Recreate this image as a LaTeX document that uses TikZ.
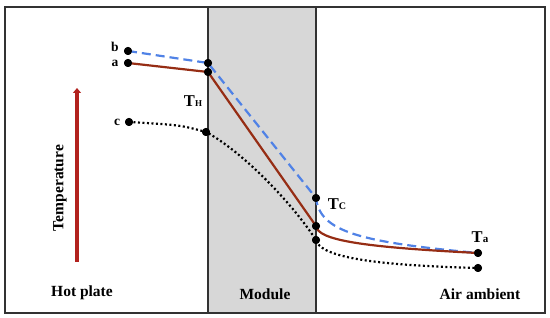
\documentclass[tikz,border=0pt]{standalone}
\usepackage{fontspec}
\setmainfont{Liberation Serif}
\usetikzlibrary{arrows.meta}
\definecolor{redline}{RGB}{150,45,20}
\definecolor{arrowred}{RGB}{178,34,30}
\definecolor{blueline}{RGB}{80,130,230}
\definecolor{modgray}{RGB}{215,215,215}
\definecolor{framegray}{RGB}{50,50,50}
\begin{document}
\begin{tikzpicture}[x=1pt,y=-1pt,
  dot/.style={circle,fill=black,inner sep=0pt,minimum size=8pt},
  biglbl/.style={font=\fontsize{15.5}{17}\selectfont\bfseries},
  tlbl/.style={font=\fontsize{16.5}{18}\selectfont\bfseries},
  smalllbl/.style={font=\fontsize{13.5}{14}\selectfont\bfseries,inner sep=0pt},
  redcurve/.style={draw=redline,line width=2.2pt},
  bluecurve/.style={draw=blueline,line width=2.2pt,dash pattern=on 9pt off 5pt},
  blackcurve/.style={draw=black,line width=2.2pt,dash pattern=on 2pt off 2.5pt},
  framebox/.style={draw=framegray,line width=1.2pt}
]
\useasboundingbox (0,0) rectangle (550,318);
% frame and module
\draw[framebox] (5,7) rectangle (545,313);
\draw[framebox,fill=modgray] (208,7) rectangle (316,313);

% temperature arrow
\coordinate (arrbot) at (77,262);
\coordinate (arrtop) at (77,88);
\draw[arrowred,line width=4pt,-{Triangle[width=8pt,length=5pt]}] (arrbot) -- (arrtop);
\node[biglbl,rotate=90] (temp) at (60,188) {Temperature};

% dots
\node[dot] (b) at (128,51) {};
\node[dot] (a) at (128,63) {};
\node[dot] (hb) at (208,63) {};
\node[dot] (ha) at (208,72) {};
\node[dot] (c) at (129,122) {};
\node[dot] (hc) at (206,132) {};
\node[dot] (tc) at (316,198) {};
\node[dot] (ca) at (316,226) {};
\node[dot] (cc) at (316,240) {};
\node[dot] (ta) at (478,253) {};
\node[dot] (tcc) at (478,268) {};

% curves
\draw[blackcurve] (c.center) .. controls (180,125) .. (hc.center)
  .. controls (240,150) and (290,200) .. (cc.center)
  .. controls (320,255) and (360,265) .. (tcc.center);
\draw[bluecurve] (b.center) -- (hb.center) -- (tc.center)
  .. controls (320,232) and (360,242) .. (ta.center);
\draw[redcurve] (a.center) -- (ha.center) -- (ca.center)
  .. controls (318,240) and (360,247) .. (ta.center);

% redraw dots on top
\foreach \n in {b,a,hb,ha,c,hc,tc,ca,cc,ta,tcc}
  \fill (\n.center) circle (4pt);

% labels
\node[smalllbl] (lb) at (115,47) {b};
\node[smalllbl] (la) at (115,63.5) {a};
\node[smalllbl] (lc) at (117,122) {c};
\node[tlbl] (lth) at (193,101) {T{\fontsize{9}{9}\selectfont H}};
\node[tlbl] (ltc) at (337,204) {T{\fontsize{10}{10}\selectfont C}};
\node[tlbl] (lta) at (480,237) {T{\fontsize{11}{11}\selectfont a}};
\node[biglbl] (hot) at (82,293) {Hot plate};
\node[biglbl] (mod) at (265,294) {Module};
\node[biglbl] (air) at (480,294) {Air ambient};
\end{tikzpicture}
\end{document}
